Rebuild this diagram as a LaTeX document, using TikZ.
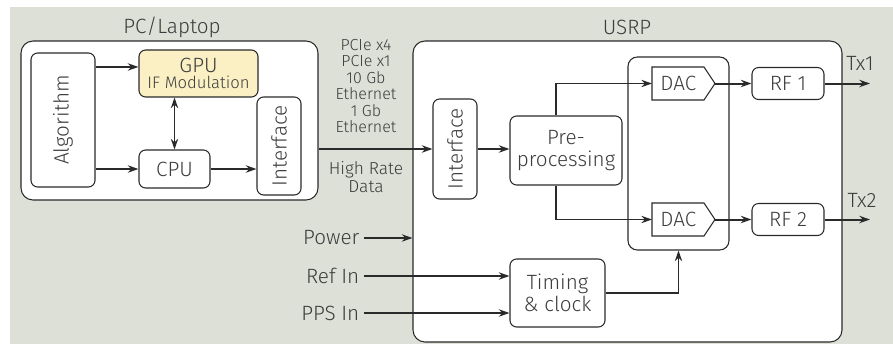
\documentclass[tikz,border=0pt]{standalone}
\usepackage{fontspec}
\setmainfont{Fira Sans}[UprightFont=* Light]
\usepackage{graphicx}
\usepackage{xcolor}
\usetikzlibrary{arrows.meta,positioning}
\definecolor{usrpBack}{HTML}{DCE0D6}
\definecolor{usrpGpu}{HTML}{FAF0C4}
\definecolor{usrpLine}{HTML}{2A2A2A}
\definecolor{usrpText}{HTML}{3C3C3C}

\begin{document}
\begin{tikzpicture}[x=0.75pt,y=-0.75pt,>={Stealth[length=8pt,width=5.5pt]},font=\fontsize{15.5}{16.5}\selectfont,text=usrpText]
  \tikzset{
    group/.style={draw=usrpLine,fill=white,rounded corners=9pt,line width=.8pt},
    block/.style={draw=usrpLine,fill=white,rounded corners=5pt,line width=.8pt,align=center,inner sep=1pt},
    dac/.style={anchor=west,inner sep=0pt,minimum width=39pt,minimum height=24.75pt},
    dacLine/.style={draw=usrpLine,fill=white,line width=.8pt},
    bus/.style={draw=usrpLine,line width=1.5pt,->},
    wire/.style={draw=usrpLine,line width=.8pt,->},
    small/.style={font=\fontsize{12}{12.4}\selectfont,align=center}
  }
  \useasboundingbox (0,0) rectangle (893,344);
  \fill[usrpBack] (10,7) rectangle (893,344);
  \node[group,minimum width=222.75pt,minimum height=119.25pt] (pc) at (169.5,120.5) {};
  \node (pcTitle) at (172,27) {PC/Laptop};
  \node[group,minimum width=321.75pt,minimum height=225.75pt] (usrp) at (627.5,191.5) {};
  \node (usrpTitle) at (627,27) {USRP};
  \node[block,minimum width=48pt,minimum height=100.5pt] (algo) at (63,120) {\rotatebox{90}{Algorithm}};
  \node[block,fill=usrpGpu,minimum width=89.25pt,minimum height=35.25pt] (gpu) at (198.5,73.5) {GPU\\[-4pt]{\fontsize{12.5}{13}\selectfont IF Modulation}};
  \node[block,minimum width=53.25pt,minimum height=28.5pt] (cpu) at (174.5,169) {CPU};
  \node[block,minimum width=33pt,minimum height=73.5pt] (pcIf) at (279,146) {\rotatebox{90}{Interface}};
  \node[block,minimum width=33pt,minimum height=75pt] (usIf) at (455,149) {\rotatebox{90}{Interface}};
  \node[block,minimum width=84pt,minimum height=51.75pt] (prep) at (566,150.5) {Pre-\\processing};
  \node[block,rounded corners=7pt,minimum width=75.75pt,minimum height=144.75pt] (dacGrp) at (678.5,153.5) {};
  % DAC blocks with pointed right side
  \draw[dacLine] (652,67) -- (704,67) -- (715,83.5) coordinate (dac1Tip) -- (704,100) -- (652,100) -- cycle;
  \node[dac] (dac1) at (652,83.5) {DAC};
  \draw[dacLine] (652,203) -- (704,203) -- (715,219.5) coordinate (dac2Tip) -- (704,236) -- (652,236) -- cycle;
  \node[dac] (dac2) at (652,219.5) {DAC};
  \node[block,minimum width=54pt,minimum height=24pt] (rf1) at (788,83.5) {RF 1};
  \node[block,minimum width=54pt,minimum height=24pt] (rf2) at (788,219.5) {RF 2};
  \node[block,minimum width=71.25pt,minimum height=51pt] (timing) at (557.5,293) {Timing\\\& clock};
  \coordinate (tx1End) at (870,83.5);
  \coordinate (tx2End) at (870,219.5);
  \node (tx1) at (860,63) {Tx1};
  \node (tx2) at (862,200) {Tx2};
  \node[anchor=east] (power) at (364,238) {Power};
  \node[anchor=east] (refIn) at (364,276) {Ref In};
  \node[anchor=east] (ppsIn) at (364,313) {PPS In};
  \node[small] (linkTop) at (366,86) {PCIe x4\\PCIe x1\\10 Gb\\Ethernet\\1 Gb\\Ethernet};
  \node[small,font=\fontsize{13}{13.5}\selectfont] (linkLow) at (366,177) {High Rate\\Data};
  % PC side
  \coordinate (gpuIn) at ([yshift=4.9pt]gpu.west);
  \draw[bus] (algo.east |- gpuIn) -- (gpuIn);
  \draw[bus] (algo.east |- cpu.west) -- (cpu.west);
  \draw[bus] (cpu.east) -- (cpu.east -| pcIf.west);
  \draw[wire,<->] (cpu.north) -- (cpu.north |- gpu.south);
  \draw[bus] (pc.east |- usIf.west) -- (usIf.west);
  % USRP side
  \draw[bus] (usIf.east) -- (usIf.east -| prep.west);
  \draw[wire] ([xshift=-7.5pt]prep.north) |- (dac1.west);
  \draw[wire] ([xshift=-7.5pt]prep.south) |- (dac2.west);
  \draw[bus] (dac1Tip) -- (rf1.west);
  \draw[bus] (rf1.east) -- (tx1End);
  \draw[bus] (dac2Tip) -- (rf2.west);
  \draw[bus] (rf2.east) -- (tx2End);
  \draw[wire] (power.east) -- (power.east -| usrp.west);
  \draw[bus] (refIn.east) -- (refIn.east -| timing.west);
  \draw[bus] (ppsIn.east) -- (ppsIn.east -| timing.west);
  \draw[wire] (timing.east) -| (dacGrp.south);
\end{tikzpicture}
\end{document}
